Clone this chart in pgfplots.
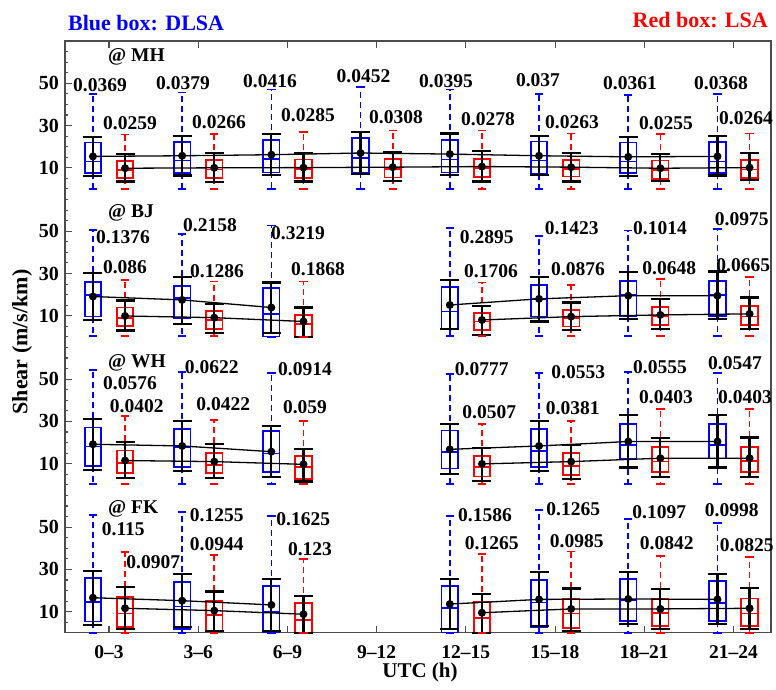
\documentclass[border=0pt]{standalone}
\usepackage{fontspec}
\setmainfont{Liberation Serif}
\usepackage{pgfplots}
\pgfplotsset{compat=1.18}
\usepgfplotslibrary{statistics}

% boxplot: #1 x, #2 panel offset, #3 lower whisker, #4 q1, #5 median, #6 q3, #7 upper whisker, #8 colour
\newcommand\bx[8]{%
  \pgfmathsetmacro\bxA{#3+#2}%
  \pgfmathsetmacro\bxB{#4+#2}%
  \pgfmathsetmacro\bxC{#5+#2}%
  \pgfmathsetmacro\bxD{#6+#2}%
  \pgfmathsetmacro\bxE{#7+#2}%
  \edef\bxtmp{\noexpand\addplot[draw=#8, line width=1.7pt, boxplot prepared={draw position=#1, lower whisker=\bxA, lower quartile=\bxB, median=\bxC, upper quartile=\bxD, upper whisker=\bxE, box extend=0.185, whisker extend=0, every box/.style={draw=#8}, every median/.style={draw=#8}, every whisker/.style={draw=#8, dash pattern=on 6pt off 4pt}}] coordinates {};
  \noexpand\addplot[draw=#8, only marks, mark=-, mark size=4.2pt, mark options={draw=#8, line width=1.7pt}] coordinates {(#1,\bxA) (#1,\bxE)};}%
  \bxtmp}

% mean +- bars: #1 offset, #2 rows "x m t b"
\newcommand\mn[2]{%
  \addplot[black, line width=1.3pt, mark=*, mark size=3.3pt,
    error bars/.cd, y dir=both, y explicit,
    error bar style={line width=2.2pt},
    error mark options={rotate=90, mark size=9.5pt, line width=2.2pt}]
  table[row sep=\\, x=x, y expr=\thisrow{m}+#1,
    y error plus expr=\thisrow{t}-\thisrow{m},
    y error minus expr=\thisrow{m}-\thisrow{b}] {x m t b\\ #2};}

\newcommand\lb[3]{\node[font=\bfseries\fontsize{19.5}{22}\selectfont, inner sep=0pt] at (#1,#2) {#3};}
\newcommand\st[3]{\node[font=\bfseries\fontsize{19.5}{22}\selectfont, inner sep=0pt, anchor=base west] at (#1,#2) {#3};}

\begin{document}
\begin{tikzpicture}
\begin{axis}[name=ax, scale only axis, width=706pt, height=591.8pt,
  xmin=0.507, xmax=8.42, ymin=0, ymax=280, clip=false,
  boxplot/draw direction=y,
  axis line style={draw=black!70, line width=1.2pt},
  tick style={draw=black!70, line width=1.1pt},
  tick align=inside, major tick length=7pt, minor tick length=3.5pt,
  xtick={1,...,8},
  xticklabels={0–3,3–6,6–9,9–12,12–15,15–18,18–21,21–24},
  ytick={10,30,50,80,100,120,150,170,190,220,240,260},
  yticklabels={10,30,50,10,30,50,10,30,50,10,30,50},
  minor ytick={0,5,...,280},
  ytick pos=left,
  /pgf/number format/assume math mode=true,
  xticklabel style={font=\bfseries\fontsize{19.5}{22}\selectfont, inner sep=0pt, anchor=north, yshift=-13pt},
  yticklabel style={font=\bfseries\fontsize{20}{22}\selectfont, inner sep=0pt, anchor=east, xshift=-6pt},
]
% ---------------- MH (offset 210) ----------------
\bx{0.82}{210}{0}{7.5}{13}{22}{44.8}{blue}
\bx{1.82}{210}{0}{7.5}{13.5}{22.2}{45.6}{blue}
\bx{2.82}{210}{0}{7.8}{14.1}{23.3}{47}{blue}
\bx{3.82}{210}{0}{7.8}{14.5}{24}{48.2}{blue}
\bx{4.82}{210}{0}{7.8}{14}{23.3}{47}{blue}
\bx{5.82}{210}{0}{7.1}{13.5}{22.5}{45}{blue}
\bx{6.82}{210}{0}{7.5}{13}{22}{44.4}{blue}
\bx{7.82}{210}{0}{7.5}{13}{22.2}{45}{blue}
\bx{1.18}{210}{0}{5.1}{9}{13.3}{25.7}{red}
\bx{2.18}{210}{0}{5.1}{9.2}{13.8}{26}{red}
\bx{3.18}{210}{0}{5.2}{9.5}{13.9}{26.8}{red}
\bx{4.18}{210}{0}{5.4}{9.6}{14.1}{27.6}{red}
\bx{5.18}{210}{0}{5.6}{10}{14.1}{27.6}{red}
\bx{6.18}{210}{0}{5.9}{9.5}{13.8}{26.2}{red}
\bx{7.18}{210}{0}{4.6}{9}{13.5}{25.9}{red}
\bx{8.18}{210}{0}{5.1}{9.2}{13.8}{26.2}{red}
\mn{210}{0.82 15.4 24.6 6.2\\ 1.82 15.7 25.2 6.4\\ 2.82 16.2 26 6.7\\ 3.82 17 26.8 7.1\\ 4.82 16.5 26.2 6.7\\ 5.82 15.7 24.9 6.6\\ 6.82 15.2 24.6 6.2\\ 7.82 15.4 24.9 6.4\\}
\mn{210}{1.18 9.8 16.5 3.5\\ 2.18 10 17 3.4\\ 3.18 10.1 17 3.5\\ 4.18 10.3 17.3 3.6\\ 5.18 10.6 17.8 3.5\\ 6.18 10.3 16.9 3.5\\ 7.18 9.8 16.5 3.8\\ 8.18 10.1 16.9 4.3\\}
% ---------------- BJ (offset 140) ----------------
\bx{0.82}{140}{0.3}{9.6}{19.9}{25.9}{50.6}{blue}
\bx{1.82}{140}{0.3}{8.8}{18.3}{24.1}{48.6}{blue}
\bx{2.82}{140}{0.1}{0.2}{10.7}{23}{52.7}{blue}
\bx{4.82}{140}{0.3}{3.6}{12}{23.5}{51.4}{blue}
\bx{5.82}{140}{0.3}{9.6}{18}{24.6}{47.8}{blue}
\bx{6.82}{140}{0.3}{9.9}{19.9}{26.3}{50.3}{blue}
\bx{7.82}{140}{0.3}{9.9}{19.9}{26.5}{51}{blue}
\bx{1.18}{140}{0.3}{5.2}{9}{13.9}{27}{red}
\bx{2.18}{140}{0.3}{3.8}{8}{12.4}{26.2}{red}
\bx{3.18}{140}{0}{0.1}{6.2}{10.4}{26.2}{red}
\bx{5.18}{140}{0.3}{3.3}{7.3}{11.4}{25.7}{red}
\bx{6.18}{140}{0.3}{4.9}{9}{12.8}{24.6}{red}
\bx{7.18}{140}{0.3}{5.7}{10}{14.2}{27.3}{red}
\bx{8.18}{140}{0.3}{5.7}{9.6}{14.7}{28.5}{red}
\mn{140}{0.82 19.1 30.4 8.0\\ 1.82 17.5 28.5 6.0\\ 2.82 13.9 25.7 1.7\\}
\mn{140}{4.82 15.1 27 3.6\\ 5.82 18 28.2 7.3\\ 6.82 19.5 30.6 8.3\\ 7.82 19.5 30.9 8.3\\}
\mn{140}{1.18 9.9 17.2 3\\ 2.18 9.1 15.6 1.7\\ 3.18 7.3 13.9 0.1\\}
\mn{140}{5.18 8.0 14.7 0.9\\ 6.18 9.6 16.3 3.3\\ 7.18 10.4 18 3.6\\ 8.18 10.9 18.6 3.6\\}
% ---------------- WH (offset 70) ----------------
\bx{0.82}{70}{0.3}{8.9}{18.1}{27.1}{54.4}{blue}
\bx{1.82}{70}{0.3}{8.6}{17.8}{26.5}{53.3}{blue}
\bx{2.82}{70}{0.3}{6.2}{14.9}{25.5}{52.8}{blue}
\bx{4.82}{70}{0.3}{7.8}{15.7}{25.7}{52.5}{blue}
\bx{5.82}{70}{0.3}{8.6}{16}{26.3}{52.8}{blue}
\bx{6.82}{70}{0.3}{12.3}{18.9}{28.7}{53.3}{blue}
\bx{7.82}{70}{0.3}{12.5}{18.9}{28.7}{52.8}{blue}
\bx{1.18}{70}{0.3}{5.5}{10.2}{16.2}{32.6}{red}
\bx{2.18}{70}{0.3}{5.5}{9.4}{15.2}{30.8}{red}
\bx{3.18}{70}{0.3}{2.8}{8.3}{13.7}{30.2}{red}
\bx{5.18}{70}{0.3}{3.9}{8.6}{13.7}{28.9}{red}
\bx{6.18}{70}{0.3}{4.7}{8.9}{15}{30.2}{red}
\bx{7.18}{70}{0.3}{6.2}{11}{17.8}{35.8}{red}
\bx{8.18}{70}{0.3}{6}{11.2}{17.8}{35.8}{red}
\mn{70}{0.82 19.2 31 7.1\\ 1.82 18.4 30.2 6.7\\ 2.82 15.7 27.9 3.9\\}
\mn{70}{4.82 16.8 28.9 5\\ 5.82 18.4 30.2 6.7\\ 6.82 20.5 33.1 8.2\\ 7.82 20.5 33.1 8.2\\}
\mn{70}{1.18 11.5 20.2 3.4\\ 2.18 11 19.2 3.4\\ 3.18 9.7 17 1.6\\}
\mn{70}{5.18 9.9 17.3 2\\ 6.18 11 18.9 2.8\\ 7.18 12.6 22.1 3.9\\ 8.18 12.6 22.4 3.9\\}
% ---------------- FK (offset 0) ----------------
\bx{0.82}{0}{0}{5.3}{14.7}{25.8}{55.7}{blue}
\bx{1.82}{0}{0}{1.7}{12.5}{23.9}{57.3}{blue}
\bx{2.82}{0}{0}{0.1}{10}{22.1}{55.4}{blue}
\bx{4.82}{0}{0}{0.1}{11.6}{22.3}{55.3}{blue}
\bx{5.82}{0}{0}{2.6}{14.4}{25}{58.1}{blue}
\bx{6.82}{0}{0}{5.7}{15.5}{25.3}{53.9}{blue}
\bx{7.82}{0}{0}{5.7}{14.2}{24.5}{51.8}{blue}
\bx{1.18}{0}{0}{2.9}{9.2}{16.8}{38.1}{red}
\bx{2.18}{0}{0}{1}{8.4}{15.2}{36.8}{red}
\bx{3.18}{0}{0}{0.1}{6.1}{14}{34.8}{red}
\bx{5.18}{0}{0}{0.1}{6.9}{14.7}{37.3}{red}
\bx{6.18}{0}{0}{2.4}{9.2}{16.3}{38.4}{red}
\bx{7.18}{0}{0}{3.2}{9.5}{16.3}{36.3}{red}
\bx{8.18}{0}{0}{3.2}{9.2}{16.3}{36}{red}
\mn{0}{0.82 16.6 29.4 3.7\\ 1.82 15.2 27.8 2.9\\ 2.82 13.2 25.3 1\\}
\mn{0}{4.82 13.6 25.3 1.8\\ 5.82 15.8 28.9 3.2\\ 6.82 16 28.9 4\\ 7.82 15.8 27.8 4\\}
\mn{0}{1.18 11.6 21.5 1.7\\ 2.18 10.5 19.5 1\\ 3.18 8.8 17.4 0\\}
\mn{0}{5.18 9.5 18.4 0\\ 6.18 11.3 21 1\\ 7.18 11.3 20.6 1.7\\ 8.18 11.6 21.3 1.7\\}
\end{axis}
% right-hand minor ticks
\begin{axis}[scale only axis, width=706pt, height=591.8pt, at={(ax.south west)}, anchor=south west,
  xmin=0.507, xmax=8.42, ymin=0, ymax=280, hide x axis, axis y line*=right,
  axis line style={draw=black!70, line width=1.2pt, -},
  ytick=\empty, minor ytick={0,1,...,280}, minor tick length=3pt,
  tick style={draw=black!70, line width=0.8pt}, tick align=inside]
\end{axis}
\begin{scope}[shift={(ax.south west)}, xshift=-65pt, yshift=632.8pt, x=1pt, y=-1pt]
\path (0,0) rectangle (776,689);
\node[font=\bfseries\fontsize{22}{26}\selectfont, text=blue, inner sep=0pt, anchor=base west] at (68,31) {Blue box: DLSA};
\node[font=\bfseries\fontsize{22}{26}\selectfont, text=red, inner sep=0pt, anchor=base east] at (768,28) {Red box: LSA};
\node[font=\bfseries\fontsize{21}{24}\selectfont, inner sep=0pt] at (420,672) {UTC (h)};
\node[font=\bfseries\fontsize{22}{26}\selectfont, inner sep=0pt, rotate=90] at (22,342) {Shear (m/s/km)};
\st{108}{62}{@ MH}
\st{108}{218}{@ BJ}
\st{108}{367}{@ WH}
\st{108}{513}{@ FK}
% MH
\lb{100}{85}{0.0369}\lb{183}{83}{0.0379}\lb{270}{81}{0.0416}\lb{363.5}{76}{0.0452}
\lb{446}{81}{0.0395}\lb{538}{80}{0.037}\lb{630}{83}{0.0361}\lb{721}{83}{0.0368}
\lb{130}{123}{0.0259}\lb{219}{122}{0.0266}\lb{308}{115}{0.0285}\lb{396}{117}{0.0308}
\lb{488}{119}{0.0278}\lb{572}{122}{0.0263}\lb{666}{123}{0.0255}\lb{746}{118}{0.0264}
% BJ
\lb{123}{236.7}{0.1376}\lb{210}{225}{0.2158}\lb{298}{232.7}{0.3219}\lb{486.7}{236.7}{0.2895}
\lb{571.7}{228.3}{0.1423}\lb{660}{228.3}{0.1014}\lb{741.7}{219.3}{0.0975}
\lb{125}{266.7}{0.086}\lb{217}{270.7}{0.1286}\lb{318}{269.3}{0.1868}\lb{491}{270.7}{0.1706}
\lb{578}{269.3}{0.0876}\lb{669.3}{268.3}{0.0648}\lb{743.3}{265}{0.0665}
% WH
\lb{130}{383.3}{0.0576}\lb{211.7}{366.7}{0.0622}\lb{305}{369.3}{0.0914}\lb{481.7}{369.3}{0.0777}
\lb{578.3}{371.7}{0.0553}\lb{660}{366.7}{0.0555}\lb{735}{362.7}{0.0547}
\lb{136.7}{405.7}{0.0402}\lb{223.3}{404.3}{0.0422}\lb{305}{406.7}{0.059}\lb{489.3}{411.7}{0.0507}
\lb{572.7}{408.3}{0.0381}\lb{666}{396.7}{0.0403}\lb{745}{397.3}{0.0403}
% FK
\lb{123.3}{529.3}{0.115}\lb{216.7}{515}{0.1255}\lb{303.3}{519.3}{0.1625}\lb{485}{515}{0.1586}
\lb{573.3}{509.3}{0.1265}\lb{659.3}{511.7}{0.1097}\lb{731.7}{510}{0.0998}
\lb{153.3}{561.7}{0.0907}\lb{216.7}{544.3}{0.0944}\lb{310}{549.3}{0.123}\lb{491.7}{543.3}{0.1265}
\lb{576.7}{540.7}{0.0985}\lb{666.7}{543.3}{0.0842}\lb{746.7}{545}{0.0825}
\end{scope}
\end{tikzpicture}
\end{document}
